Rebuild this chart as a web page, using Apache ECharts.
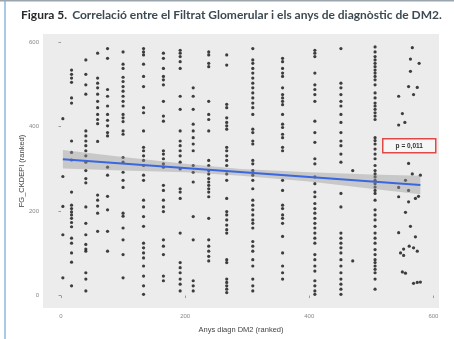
<!DOCTYPE html>
<html>
<head>
<meta charset="utf-8">
<script src="https://cdn.jsdelivr.net/npm/echarts@6/dist/echarts.min.js"></script>
<style>
html,body{margin:0;padding:0;background:#fff;}
#chart{width:454px;height:339px;}
</style>
</head>
<body>
<div id="chart"></div>
<script>
// Column x positions (ranked years of diagnosis, tied ranks)
var colX = [3, 17, 40, 59, 75, 100, 133, 165, 192, 213, 238, 267, 309, 357, 409, 451, 470, 506];
// y values (ranked FG CKD-EPI) of each column
var colY = [
  [419, 282, 211, 144, 42],
  [534,524,515,505,468,456,366,339,321,245,214,206,198,191,183,173,163,136,124,101,79,23],
  [558,524,499,477,390,378,366,355,343,331,316,296,277,267,210,171,144,121,110,105,54,39,11],
  [574,515,503,492,477,460,445,429,417,407,365,238,226,212,195,152],
  [585,562,488,472,449,429,415,402,386,378,304,285,235,203,152,105],
  [577,548,538,517,507,495,484,472,460,449,429,421,412,390,382,327,316,292,273,256,195,188,160,132,97,42],
  [585,577,570,548,519,495,445,433,390,351,343,331,320,308,285,273,226,210,187,164,124,113,101,89,70,46,23,3],
  [574,562,538,519,511,499,460,425,413,343,335,324,312,304,261,249,226,210,199,132,117,97,46,35],
  [581,574,566,554,538,472,441,390,366,355,343,331,316,300,253,245,230,148,78,66,54,39,27,11],
  [492,472,441,406,390,374,359,343,308,292,269,187,132,35,23,11],
  [577,570,550,542,460,429,417,390,320,308,296,288,277,269,261,253,245,234,183,132,117,105,93,82],
  [570,546,453,445,421,410,402,394,351,343,331,320,308,288,273,230,199,191,179,167,156,148,85,78,39,31,23,15,7],
  [585,558,550,538,527,515,503,492,480,468,456,445,429,394,386,366,359,320,312,296,285,273,253,226,214,203,191,179,171,160,128,117,105,85,70,39,23,11],
  [562,554,538,527,519,492,476,468,460,452,429,406,398,382,374,351,343,273,249,214,206,191,183,171,140,101,70,54,39],
  [581,574,566,527,499,488,476,460,413,386,363,324,312,281,265,245,234,218,206,195,183,171,160,148,136,124,97,85,70,58,35,23,11,3],
  [585,503,492,476,460,449,429,410,386,366,355,335,316,242,210,148,136,124,113,101,85,70,54,39,27,15,3],
  [296, 82],
  [589,577,566,558,550,542,534,527,519,511,499,480,468,456,449,441,433,425,417,374,367,359,347,335,324,308,296,288,281,273,265,257,249,242,226,203,191,179,164,148,136,124,109,97,85,78,70,62,54,39,15]
];
// Scattered (untied) points at the right end
var scatX = [566,563,577,563,560,574,568,544,550,544,554,560,555,566,579,544,560,576,544,571,560,555,563,544,571,552,561,568,574,547,552,550,555,568,574,579];
var scatY = [587,560,550,531,495,493,476,472,431,404,410,313,273,288,285,256,249,235,234,230,222,197,164,149,139,110,117,113,105,101,95,56,53,29,31,32];

// Linear fit and 95% confidence band
var fitX = [3, 579];
var fitY = [323, 262];
var bandX = [3, 100, 200, 290, 400, 500, 579];
var bandLower = [301, 296, 292, 284, 270, 253, 240];
var bandUpper = [345, 328, 312, 300, 292, 287, 284];

var axisTicks = [0, 200, 400, 600];
var pText = 'p = 0,011';

var points = [];
for (var i = 0; i < colX.length; i++) {
  for (var j = 0; j < colY[i].length; j++) points.push([colX[i], colY[i][j]]);
}
for (var k = 0; k < scatX.length; k++) points.push([scatX[k], scatY[k]]);

var fitData = fitX.map(function (x, i) { return [x, fitY[i]]; });

var chart = echarts.init(document.getElementById('chart'), null, {renderer: 'canvas'});
chart.setOption({
  animation: false,
  backgroundColor: '#ffffff',
  title: {
    left: 21, top: 6, padding: 0,
    text: '{b|Figura 5.} {n|Correlació entre el Filtrat Glomerular i els anys de diagnòstic de DM2.}',
    textStyle: {
      rich: {
        b: {fontFamily: 'Lato', fontWeight: 'bold', fontSize: 12, color: '#2a2a2a'},
        n: {fontFamily: 'Lato', fontSize: 12, color: '#3d4a52'}
      }
    }
  },
  grid: {left: 43, right: 15, top: 34, bottom: 28, show: true, backgroundColor: '#ececec', borderWidth: 0},
  xAxis: {
    type: 'value', min: -29, max: 609,
    name: 'Anys diagn DM2 (ranked)', nameLocation: 'middle', nameGap: 18, nameMoveOverlap: false,
    nameTextStyle: {fontFamily: 'Liberation Sans', fontSize: 7.5, color: '#444'},
    axisLine: {show: false},
    axisTick: {show: true, length: 2.5, customValues: axisTicks, lineStyle: {color: '#999'}},
    axisLabel: {customValues: axisTicks, fontFamily: 'Liberation Sans', fontSize: 6, color: '#888', margin: 5},
    splitLine: {show: false}
  },
  yAxis: {
    type: 'value', min: -29.5, max: 619.5,
    name: 'FG_CKDEPI (ranked)', nameLocation: 'middle', nameGap: 17, nameRotate: 90, nameMoveOverlap: false,
    nameTextStyle: {fontFamily: 'Liberation Sans', fontSize: 7.5, color: '#444'},
    axisLine: {show: false},
    axisTick: {show: true, length: 2.5, customValues: axisTicks, lineStyle: {color: '#999'}},
    axisLabel: {customValues: axisTicks, fontFamily: 'Liberation Sans', fontSize: 6, color: '#888', margin: 4},
    splitLine: {show: false}
  },
  series: [
    {
      type: 'scatter', data: points, symbolSize: 3.2,
      itemStyle: {color: '#111'}, silent: true, z: 2
    },
    {
      type: 'custom', silent: true, z: 3,
      data: [[bandX[0], bandLower[0]]],
      renderItem: function (params, api) {
        var pts = [];
        for (var i = 0; i < bandX.length; i++) pts.push(api.coord([bandX[i], bandUpper[i]]));
        for (var j = bandX.length - 1; j >= 0; j--) pts.push(api.coord([bandX[j], bandLower[j]]));
        return {type: 'polygon', shape: {points: pts}, style: {fill: 'rgba(150,150,150,0.42)'}};
      }
    },
    {
      type: 'line', data: fitData, symbol: 'none', silent: true, z: 4,
      lineStyle: {color: '#3a66e0', width: 2}
    }
  ],
  graphic: [
    {type: 'rect', left: 4, top: 0, shape: {width: 2, height: 339}, style: {fill: '#a9cbe6'}},
    {type: 'rect', left: 0, top: 0, shape: {width: 454, height: 1.5}, style: {fill: '#9aa5ad'}},
    {
      type: 'group', left: 382, top: 138,
      children: [
        {type: 'rect', shape: {x: 0, y: 0, width: 53, height: 14}, style: {fill: '#f6f6f6', stroke: '#e04848', lineWidth: 1.5}},
        {type: 'text', x: 26.5, y: 7, style: {text: pText, fontFamily: 'Liberation Sans', fontWeight: 'bold', fontSize: 6.5, fill: '#333', align: 'center', verticalAlign: 'middle'}}
      ]
    }
  ]
});
</script>
</body>
</html>
